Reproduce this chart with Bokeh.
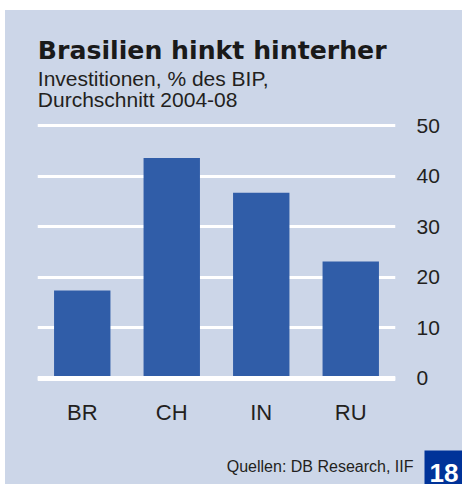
from bokeh.plotting import figure
from bokeh.models import (Range1d, FactorRange, Label, Span, BoxAnnotation,
                          LinearAxis, FixedTicker, CategoricalAxis, Spacer)
from bokeh.layouts import column, row
from bokeh.embed import file_html
from bokeh.resources import INLINE

# ---- data ----
categories = ["BR", "CH", "IN", "RU"]
values = [17.4, 43.6, 36.7, 23.1]
y_ticks = [0, 10, 20, 30, 40, 50]

title_text = "Brasilien hinkt hinterher"
subtitle_1 = "Investitionen, % des BIP,"
subtitle_2 = "Durchschnitt 2004-08"
source_text = "Quellen: DB Research, IIF"
page_number = "18"

# ---- styling ----
BG = "#CCD6E8"
BAR = "#305DA8"
TXT = "#231F20"
FONT = "Liberation Sans"
PANEL_W = 457          # panel from x=5 to x=462
X0 = 5
DY = 7                 # baseline correction for label text

def blank_fig(y_top, y_bottom):
    f = figure(width=PANEL_W, height=y_bottom - y_top,
               x_range=Range1d(X0, X0 + PANEL_W), y_range=Range1d(y_bottom, y_top),
               output_backend="svg", toolbar_location=None, min_border=0,
               x_axis_location=None, y_axis_location=None, frame_align=False)
    f.background_fill_color = BG
    f.border_fill_color = BG
    f.outline_line_color = None
    f.xgrid.visible = False
    f.ygrid.visible = False
    return f

# ---- header ----
HEAD_TOP, HEAD_BOTTOM = 10, 112
top = blank_fig(HEAD_TOP, HEAD_BOTTOM)
top.add_layout(Label(x=37.3, y=57.3 - DY, text=title_text, text_font="DejaVu Sans",
                     text_font_style="bold", text_font_size="25.2px",
                     text_color="#1A1A1A", text_baseline="alphabetic"))
top.add_layout(Label(x=37.3, y=85 - DY, text=subtitle_1, text_font=FONT,
                     text_font_size="21px", text_color=TXT, text_baseline="alphabetic"))
top.add_layout(Label(x=37.3, y=106 - DY, text=subtitle_2, text_font=FONT,
                     text_font_size="21px", text_color=TXT, text_baseline="alphabetic"))

# ---- chart ----
CH_TOP, CH_BOTTOM = HEAD_BOTTOM, 430
p = figure(width=PANEL_W, height=CH_BOTTOM - CH_TOP,
           x_range=FactorRange(*categories, range_padding=0),
           y_range=Range1d(-1, 51), output_backend="svg", toolbar_location=None,
           min_border_top=120 - CH_TOP, min_border_bottom=CH_BOTTOM - 383,
           min_border_left=32, min_border_right=67,
           x_axis_location=None, y_axis_location=None, frame_align=False)
p.background_fill_alpha = 0
p.border_fill_color = BG
p.outline_line_color = None

p.vbar(x=categories, top=values, width=0.63, bottom=0, color=BAR, line_color=None)

p.ygrid.ticker = FixedTicker(ticks=y_ticks)
p.ygrid.grid_line_color = "white"
p.ygrid.grid_line_width = 3
p.xgrid.grid_line_color = None

p.add_layout(Span(location=0, dimension="width", line_color="white", line_width=5))

ra = LinearAxis(ticker=FixedTicker(ticks=y_ticks))
ra.axis_line_color = None
ra.major_tick_line_color = None
ra.minor_tick_line_color = None
ra.major_tick_out = 0
ra.major_tick_in = 0
ra.major_label_standoff = 21
ra.major_label_text_font = FONT
ra.major_label_text_font_size = "21px"
ra.major_label_text_color = TXT
p.add_layout(ra, "right")

ba = CategoricalAxis()
ba.axis_line_color = None
ba.major_tick_line_color = None
ba.minor_tick_line_color = None
ba.major_tick_out = 0
ba.major_tick_in = 0
ba.major_label_standoff = 16
ba.major_label_text_font = FONT
ba.major_label_text_font_size = "22px"
ba.major_label_text_color = TXT
p.add_layout(ba, "below")

# ---- footer ----
bot = blank_fig(CH_BOTTOM, 484)
bot.add_layout(Label(x=413, y=473.3 - DY, text=source_text, text_font=FONT,
                     text_font_size="16px", text_color=TXT,
                     text_baseline="alphabetic", text_align="right"))
bot.add_layout(BoxAnnotation(left=424, right=462, top=450, bottom=484,
                             fill_color="#003399", fill_alpha=1.0, line_color=None))
bot.add_layout(Label(x=443.5, y=479 - DY, text=page_number, text_font=FONT,
                     text_font_style="bold", text_font_size="26px",
                     text_color="white", text_baseline="alphabetic",
                     text_align="center"))

panel = column(top, p, bot, spacing=0, styles={"background-color": BG})
layout = row(Spacer(width=X0, height=484),
             column(Spacer(width=PANEL_W, height=HEAD_TOP), panel, spacing=0),
             spacing=0)

open("out.html", "w").write(file_html(layout, INLINE))
